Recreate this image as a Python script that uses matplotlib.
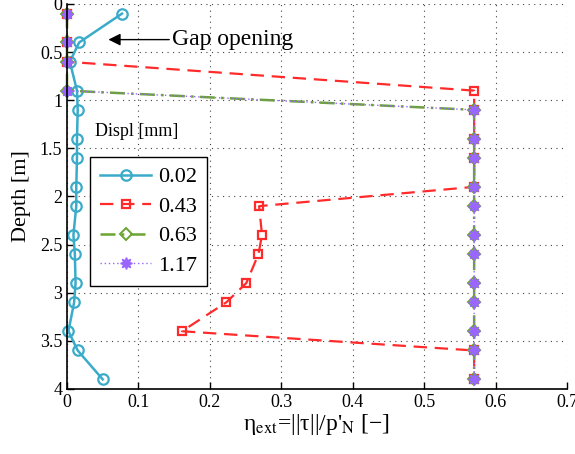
import matplotlib
matplotlib.use("Agg")
import matplotlib.pyplot as plt

plt.rcParams['font.family'] = ['Liberation Serif', 'DejaVu Serif']
plt.rcParams['mathtext.fontset'] = 'stix'

# depth of the measuring points [m]
depth = [0.1, 0.4, 0.6, 0.9, 1.1, 1.4, 1.6, 1.9, 2.1, 2.4, 2.6, 2.9, 3.1, 3.4, 3.6, 3.9]

# eta_ext for each displacement level
eta_002 = [0.077, 0.017, 0.004, 0.014, 0.015, 0.014, 0.014, 0.013,
           0.013, 0.009, 0.011, 0.012, 0.010, 0.002, 0.015, 0.050]
eta_043 = [0, 0, 0, 0.57, 0.57, 0.57, 0.57, 0.57,
           0.269, 0.273, 0.268, 0.251, 0.223, 0.161, 0.57, 0.57]
eta_063 = [0, 0, 0, 0, 0.57, 0.57, 0.57, 0.57,
           0.57, 0.57, 0.57, 0.57, 0.57, 0.57, 0.57, 0.57]
eta_117 = [0, 0, 0, 0, 0.57, 0.57, 0.57, 0.57,
           0.57, 0.57, 0.57, 0.57, 0.57, 0.57, 0.57, 0.57]

labels = ['0.02', '0.43', '0.63', '1.17']

fig = plt.figure(figsize=(5.75, 4.54), dpi=100)
ax = fig.add_axes([0.1165, 0.1432, 0.8696, 0.848])

ax.plot(eta_002, depth, color='#3aabc9', lw=1.8, marker='o', ms=7.5,
        mfc='none', mew=1.6, label=labels[0], clip_on=False)
ax.plot(eta_043, depth, color='#ff2b2b', lw=1.6, ls=(0, (6, 3.5)), marker='s',
        ms=6, mfc='none', mew=1.6, label=labels[1], clip_on=False)
ax.plot(eta_063, depth, color='#6aa531', lw=1.8, ls=(0, (6, 2.5, 1, 2.5)), marker='D',
        ms=6.5, mfc='none', mew=1.4, label=labels[2], clip_on=False)
ax.plot(eta_117, depth, color='#9966ff', lw=1.0, ls=(0, (1, 2)), marker=(8, 1, 0),
        ms=8.5, mfc='#9966ff', mec='#9966ff', label=labels[3], clip_on=False)

ax.set_xlim(0, 0.7)
ax.set_ylim(4, 0)
ax.set_xticks([0, 0.1, 0.2, 0.3, 0.4, 0.5, 0.6, 0.7])
ax.set_xticklabels(['0', '0.1', '0.2', '0.3', '0.4', '0.5', '0.6', '0.7'])
ax.set_yticks([0, 0.5, 1, 1.5, 2, 2.5, 3, 3.5, 4])
ax.set_yticklabels(['0', '0.5', '1', '1.5', '2', '2.5', '3', '3.5', '4'])
ax.tick_params(direction='in', length=5, width=1, labelsize=13)
ax.spines['top'].set_visible(False)
ax.spines['right'].set_visible(False)
ax.spines['left'].set_linewidth(1.2)
ax.spines['bottom'].set_linewidth(1.2)
ax.grid(True, color='#444444', ls=(0, (1, 4)), lw=0.8)

ax.set_xlabel("η$_{\\mathrm{ext}}$=||τ||/p'$_{\\mathrm{N}}$ [−]", fontsize=17, labelpad=1)
ax.set_ylabel('Depth [m]', fontsize=16, labelpad=6)

ax.annotate('Gap opening', xy=(0.058, 0.37), xytext=(0.147, 0.37),
            fontsize=17, va='center', ha='left',
            arrowprops=dict(arrowstyle='-|>', color='black', lw=1, mutation_scale=18,
                            shrinkA=0, shrinkB=0))

ax.text(0.039, 1.32, 'Displ [mm]', fontsize=13, va='center', ha='left')

leg = ax.legend(loc='upper left', bbox_to_anchor=(0.046, 0.603), fontsize=16,
                fancybox=False, framealpha=1, edgecolor='black', handlelength=2.3,
                labelspacing=0.4, borderpad=0.45, handletextpad=0.3, borderaxespad=0)
leg.get_frame().set_linewidth(1)

fig.savefig('out.png', dpi=100)
